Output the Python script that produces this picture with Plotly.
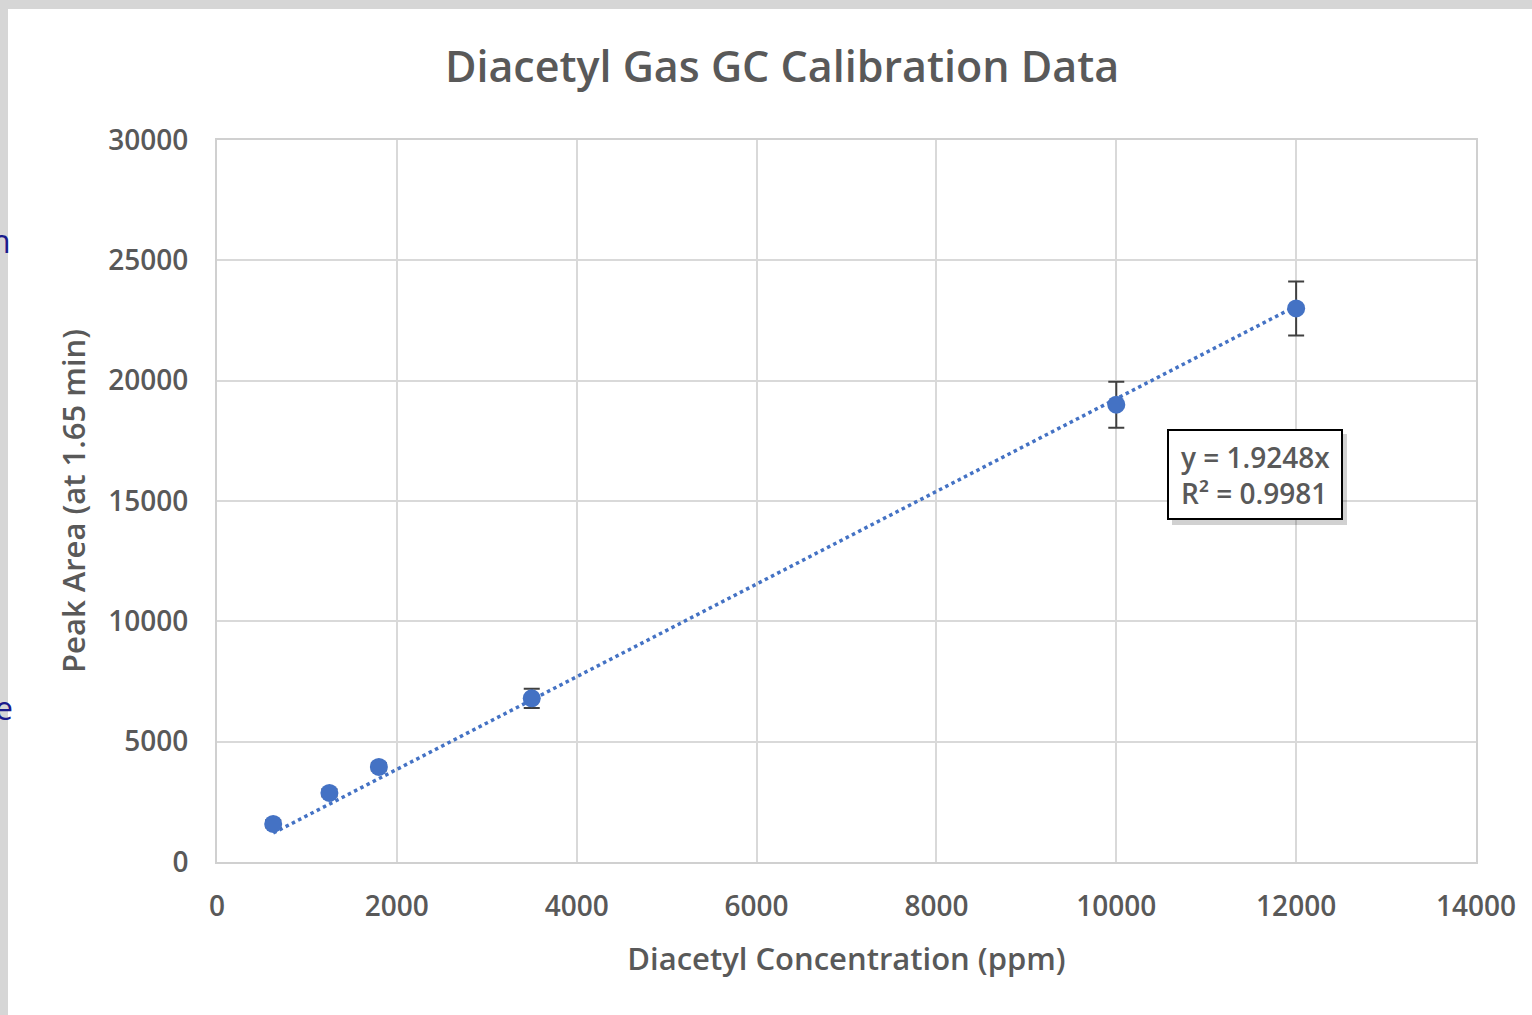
import plotly.graph_objects as go

# ---- data ----
conc_ppm = [625, 1250, 1800, 3500, 10000, 12000]
peak_area = [1580, 2870, 3950, 6800, 19000, 23000]
peak_err = [150, 150, 150, 400, 960, 1120]
trend_slope = 1.9248
trend_label = ["y = 1.9248x", "R² = 0.9981"]
x_ticks = [0, 2000, 4000, 6000, 8000, 10000, 12000, 14000]
y_ticks = [0, 5000, 10000, 15000, 20000, 25000, 30000]

W, H = 1532, 1015
L, R, T, B = 217, 56, 140, 153
PW, PH = W - L - R, H - T - B

def px_x(p):
    return (p - L) / PW

def px_y(p):
    return (H - B - p) / PH

GRAY = "#595959"
BLUE = "#4472C4"
FONT = "Open Sans"

fig = go.Figure()

tx = [min(conc_ppm), max(conc_ppm)]
fig.add_trace(go.Scatter(
    x=tx, y=[trend_slope * v for v in tx], mode="lines",
    line=dict(color=BLUE, width=3.5, dash="dot"), hoverinfo="skip", showlegend=False))

fig.add_trace(go.Scatter(
    x=conc_ppm, y=peak_area, mode="markers",
    marker=dict(color=BLUE, size=18),
    error_y=dict(type="data", array=peak_err, visible=True, color="#404040", thickness=2, width=8),
    showlegend=False))

axis_common = dict(
    showgrid=True, gridcolor="#d9d9d9", gridwidth=2,
    showline=True, linecolor="#d0d0d0", linewidth=2, mirror=True,
    zeroline=False, ticks="", tickformat="d",
    tickfont=dict(family=FONT, size=28, color=GRAY, weight=600),
)

fig.update_xaxes(range=[0, 14000], tickvals=x_ticks, ticklabelstandoff=18,
                 title=dict(text="Diacetyl Concentration (ppm)", standoff=26,
                            font=dict(family=FONT, size=31, color=GRAY, weight=600)),
                 **axis_common)
fig.update_yaxes(range=[0, 30000], tickvals=y_ticks, ticklabelstandoff=21,
                 title=dict(text="Peak Area (at 1.65 min)", standoff=13,
                            font=dict(family=FONT, size=31, color=GRAY, weight=600)),
                 **axis_common)

# equation box (shadow + frame)
bx0, bx1, by0, by1 = 1168, 1342, 430, 519
shapes = [
    dict(type="rect", xref="paper", yref="paper", x0=px_x(bx0 + 4), x1=px_x(bx1 + 5),
         y0=px_y(by1 + 6), y1=px_y(by0 + 4), fillcolor="rgba(0,0,0,0.18)", line=dict(width=0), layer="above"),
    dict(type="rect", xref="paper", yref="paper", x0=px_x(bx0), x1=px_x(bx1),
         y0=px_y(by1), y1=px_y(by0), fillcolor="white", line=dict(color="black", width=2), layer="above"),
    # screenshot frame strips
    dict(type="rect", xref="paper", yref="paper", x0=px_x(0), x1=px_x(W),
         y0=px_y(9), y1=px_y(-2), fillcolor="#d6d6d6", line=dict(width=0), layer="above"),
    dict(type="rect", xref="paper", yref="paper", x0=px_x(-2), x1=px_x(8),
         y0=px_y(H + 2), y1=px_y(0), fillcolor="#d6d6d6", line=dict(width=0), layer="above"),
]

annotations = [
    dict(text="<br>".join(trend_label), xref="paper", yref="paper",
         x=px_x((bx0 + bx1) / 2), y=px_y((by0 + by1) / 2 + 1), showarrow=False,
         xanchor="center", yanchor="middle", align="left",
         font=dict(family=FONT, size=28, color=GRAY, weight=600)),
    dict(text="n", xref="paper", yref="paper", x=px_x(13), y=px_y(240),
         xanchor="right", yanchor="middle", showarrow=False,
         font=dict(family=FONT, size=32, color="#1a1a8c")),
    dict(text="e", xref="paper", yref="paper", x=px_x(15), y=px_y(707),
         xanchor="right", yanchor="middle", showarrow=False,
         font=dict(family=FONT, size=32, color="#1a1a8c")),
]

fig.update_layout(
    width=W, height=H,
    margin=dict(l=L, r=R, t=T, b=B, autoexpand=False),
    paper_bgcolor="white", plot_bgcolor="white",
    title=dict(text="Diacetyl Gas GC Calibration Data", xref="container", x=782 / W, xanchor="center",
               y=1 - 67 / H, yanchor="middle",
               font=dict(family=FONT, size=43, color=GRAY, weight=600)),
    shapes=shapes, annotations=annotations, showlegend=False,
)

fig.write_html("out.html", config={"displayModeBar": False},
               post_script="document.body.style.margin='0';")
